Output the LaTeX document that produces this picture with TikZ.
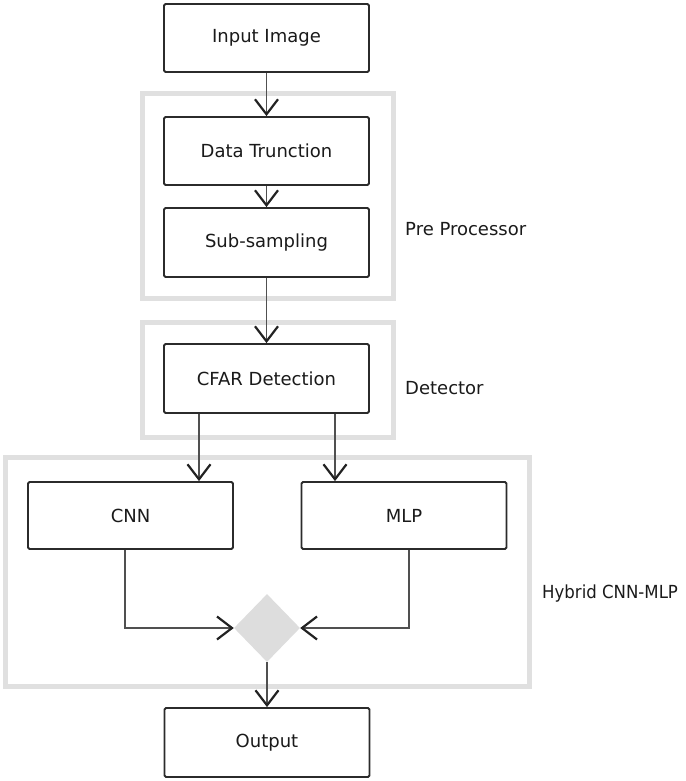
\documentclass[tikz,border=0pt]{standalone}
\usepackage{fontspec}
\setmainfont{DejaVu Sans}
\usetikzlibrary{arrows.meta,shapes.geometric,calc}
\definecolor{boxline}{HTML}{2B2B2B}
\definecolor{conn}{HTML}{505050}
\definecolor{tipc}{HTML}{222222}
\definecolor{grp}{HTML}{E0E0E0}
\definecolor{dfill}{HTML}{DDDDDD}
\definecolor{txt}{HTML}{1A1A1A}
\tikzset{
  stepbox/.style={draw=boxline, line width=1.8pt, rounded corners=1.5pt, fill=white, text=txt,
    minimum width=205pt, minimum height=68pt, inner sep=0pt, font=\fontsize{18pt}{21pt}\selectfont},
  grpbox/.style={draw=grp, line width=5pt},
  grplabel/.style={anchor=west, inner sep=0pt, text=txt, font=\fontsize{18pt}{21pt}\selectfont},
  conline/.style={draw=conn, line width=1.6pt},
  conarrow/.style={conline, -{Straight Barb[length=15pt,width=23pt,line width=2.2pt,color=tipc]}},
  merge/.style={diamond, fill=dfill, draw=none, minimum width=66pt, minimum height=68pt, inner sep=0pt}
}
\begin{document}
\begin{tikzpicture}[x=1pt,y=-1pt]
\useasboundingbox (0,0) rectangle (685,781);
% groups
\draw[grpbox] (142,94) rectangle (393,298);
\draw[grpbox] (142,322) rectangle (393,437);
\draw[grpbox] (5,457) rectangle (529,686);
% nodes
\node[stepbox] (in) at (266.5,38) {Input Image};
\node[stepbox] (dt) at (266.5,151) {Data Trunction};
\node[stepbox, minimum height=69pt] (ss) at (266.5,242.5) {Sub-sampling};
\node[stepbox, minimum height=69pt] (cfar) at (266.5,378.5) {CFAR Detection};
\node[stepbox, minimum height=67pt] (cnn) at (130.5,515.5) {CNN};
\node[stepbox, minimum height=67pt] (mlp) at (404,515.5) {MLP};
\node[merge] (dia) at (267,628) {};
\node[stepbox, minimum height=69pt] (out) at (267,742.5) {Output};
% labels
\node[grplabel] (lpre) at (405,229) {Pre Processor};
\node[grplabel] (ldet) at (405,388) {Detector};
\node[grplabel] (lhyb) at (542,594) {\scalebox{0.92}[1]{Hybrid CNN-MLP}};
% connectors
\draw[conarrow] (in.south) -- (dt.north);
\draw[conarrow] (dt.south) -- (ss.north);
\draw[conarrow] (ss.south) -- (cfar.north);
\draw[conarrow] ([xshift=-67.5pt]cfar.south) -- ([xshift=68.5pt]cnn.north);
\draw[conarrow] ([xshift=68.5pt]cfar.south) -- ([xshift=-69pt]mlp.north);
\draw[conarrow] ([xshift=-5.5pt]cnn.south) |- (dia.west);
\draw[conarrow] ([xshift=5pt]mlp.south) |- (dia.east);
\draw[conarrow] (dia.south) -- (out.north);
\end{tikzpicture}
\end{document}
